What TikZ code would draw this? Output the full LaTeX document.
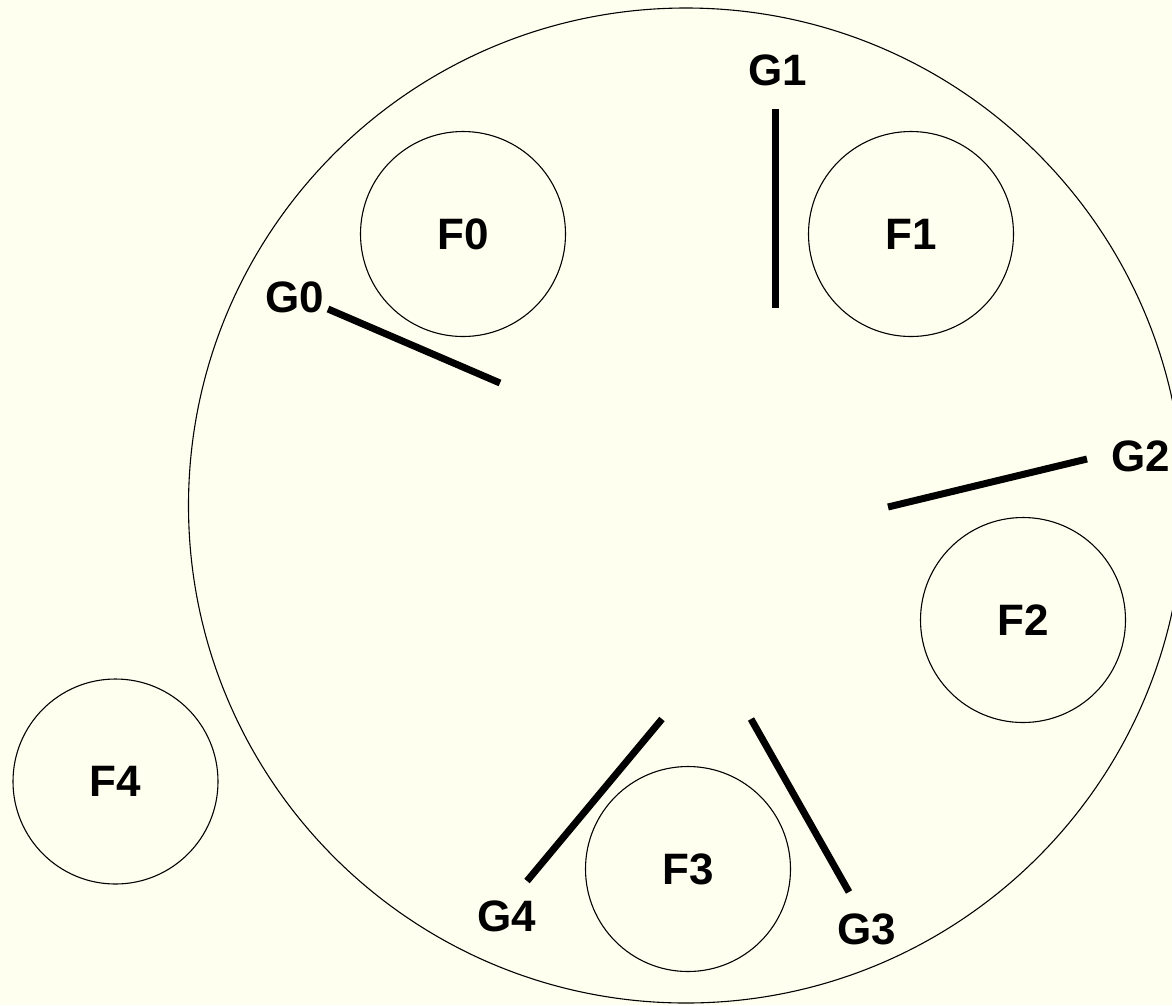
\documentclass[tikz,border=0pt]{standalone}
\usepackage{fontspec}
\setmainfont{Liberation Sans}
\definecolor{bgivory}{RGB}{255,255,240}
\begin{document}
\begin{tikzpicture}[x=1pt,y=-1pt,
  lbl/.style={font=\bfseries\fontsize{44}{50}\selectfont, inner sep=0pt},
  phil/.style={circle, draw=black, line width=1.1pt, minimum size=205pt, inner sep=0pt, font=\bfseries\fontsize{44}{50}\selectfont},
  fork/.style={line width=7pt, line cap=butt}]
\fill[bgivory] (0,0) rectangle (1172,1005);
\useasboundingbox (0,0) rectangle (1172,1005);
\node[circle, draw=black, line width=1.1pt, minimum size=995pt, inner sep=0pt] (table) at (686,505.5) {};
\node[phil] (f0) at (463,234) {F0};
\node[phil] (f1) at (911,234) {F1};
\node[phil] (f2) at (1023,620) {F2};
\node[phil] (f3) at (688,869) {F3};
\node[phil] (f4) at (115.5,781.5) {F4};
\node[lbl] (g0) at (295,297) {G0};
\node[lbl] (g1) at (777.5,70) {G1};
\node[lbl] (g2) at (1141,456) {G2};
\node[lbl] (g3) at (867,929) {G3};
\node[lbl] (g4) at (506.5,916.5) {G4};
\coordinate (g0a) at (328,309);
\coordinate (g0b) at (500,383);
\coordinate (g1a) at (775.5,109);
\coordinate (g1b) at (775.5,308);
\coordinate (g2a) at (888,507);
\coordinate (g2b) at (1087,459);
\coordinate (g3a) at (751,719);
\coordinate (g3b) at (849,892);
\coordinate (g4a) at (662,719);
\coordinate (g4b) at (527,881);
\draw[fork] (g0a) -- (g0b);
\draw[fork] (g1a) -- (g1b);
\draw[fork] (g2a) -- (g2b);
\draw[fork] (g3a) -- (g3b);
\draw[fork] (g4a) -- (g4b);
\end{tikzpicture}
\end{document}
